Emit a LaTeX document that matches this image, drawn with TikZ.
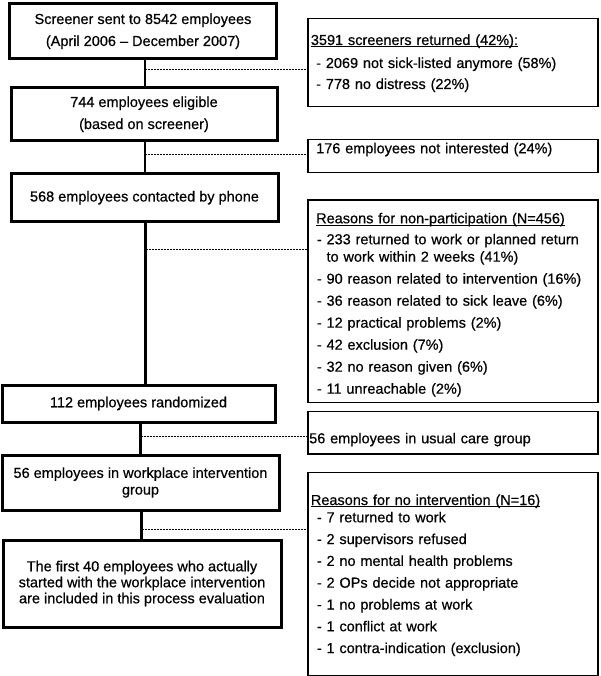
\documentclass[tikz,border=0pt]{standalone}
\usepackage{fontspec}
\setmainfont{Liberation Sans}[UprightFeatures={FakeBold=0.5}]
\newcommand{\headline}[1]{\underline{\smash{#1}}}

\begin{document}
\begin{tikzpicture}[x=1pt,y=-1pt,
  every node/.style={font=\fontsize{14.5}{22}\selectfont},
  mainbox/.style={draw,line width=3pt,inner sep=0pt,align=center},
  sidebox/.style={draw,line width=1.5pt,anchor=north west,inner sep=0pt,minimum width=290pt},
  sidetxt/.style={anchor=base west,inner sep=0pt,text width=285pt,align=left},
  link/.style={line width=2.6pt},
  dots/.style={line width=1pt,dash pattern=on 2pt off 1pt}]

\useasboundingbox (0,0) rectangle (600,676);

% Main boxes
\node[mainbox,minimum width=267pt,minimum height=55.5pt] (m_1) at (143,31.25) {Screener sent to 8542 employees\\(April 2006 -- December 2007)};
\node[mainbox,minimum width=266pt,minimum height=52.5pt] (m_2) at (144,114.25) {744 employees eligible\\(based on screener)};
\node[mainbox,minimum width=267pt,minimum height=47.5pt] (m_3) at (144.5,197.75) {568 employees contacted by phone};
\node[mainbox,minimum width=273pt,minimum height=37pt] (m_4) at (138.5,403.5) {112 employees randomized};
\node[mainbox,minimum width=277pt,minimum height=55pt,font=\fontsize{14.5}{16.7}\selectfont] (m_5) at (140.5,482.5) {56 employees in workplace intervention\\group};
\node[mainbox,minimum width=278pt,minimum height=87pt,font=\fontsize{14.5}{16}\selectfont] (m_6) at (142,583.5) {The first 40 employees who actually\\started with the workplace intervention\\are included in this process evaluation};

% Side boxes
\node[sidebox,minimum height=88pt] (s_1) at (307.3,18) {};
\node[sidebox,minimum height=33pt] (s_2) at (307.3,139) {};
\node[sidebox,minimum height=202.4pt] (s_3) at (307.3,199.3) {};
\node[sidebox,minimum height=42.3pt] (s_4) at (307.3,410.7) {};
\node[sidebox,minimum height=203.3pt] (s_5) at (307.3,471.7) {};

% Side texts
\node[sidetxt] (s_1h) at (310.7,45) {\headline{3591 screeners returned (42\%):}};
\node[sidetxt] (s_1t) at (316,68) {- 2069 not sick-listed anymore (58\%)\\[-1pt]- 778 no distress (22\%)};

\node[sidetxt] (s_2t) at (316,153.3) {176 employees not interested (24\%)};

\node[sidetxt] (s_3h) at (316,223.3) {\headline{Reasons for non-participation (N=456)}};
\node[sidetxt] (s_3t) at (316.7,244.3) {- 233 returned to work or planned return\\[-4.6pt]\hphantom{- }to work within 2 weeks (41\%)\\
  - 90 reason related to intervention (16\%)\\
  - 36 reason related to sick leave (6\%)\\
  - 12 practical problems (2\%)\\
  - 42 exclusion (7\%)\\
  - 32 no reason given (6\%)\\
  - 11 unreachable (2\%)};

\node[sidetxt] (s_4t) at (309,443.3) {56 employees in usual care group};

\node[sidetxt] (s_5h) at (310.7,505) {\headline{Reasons for no intervention (N=16)}};
\node[sidetxt,font=\fontsize{14.5}{21.8}\selectfont] (s_5t) at (316.7,522.3) {- 7 returned to work\\
  - 2 supervisors refused\\
  - 2 no mental health problems\\
  - 2 OPs decide not appropriate\\
  - 1 no problems at work\\
  - 1 conflict at work\\
  - 1 contra-indication (exclusion)};

% Junctions on the main line
\coordinate (j_1) at (145,70);
\coordinate (j_2) at (145,154.3);
\coordinate (j_3) at (145.7,249.3);
\coordinate (j_4) at (140.7,436);
\coordinate (j_5) at (141.7,529.3);

% Solid connectors
\draw[link] (j_1 |- m_1.south) -- (j_1 |- m_2.north);
\draw[link] (j_2 |- m_2.south) -- (j_2 |- m_3.north);
\draw[link] (j_3 |- m_3.south) -- (j_3 |- m_4.north);
\draw[link] (j_4 |- m_4.south) -- (j_4 |- m_5.north);
\draw[link] (j_5 |- m_5.south) -- (j_5 |- m_6.north);

% Dotted connectors
\draw[dots] (j_1) -- (j_1 -| s_1.west);
\draw[dots] (j_2) -- (j_2 -| s_2.west);
\draw[dots] (j_3) -- (j_3 -| s_3.west);
\draw[dots] (j_4) -- (j_4 -| s_4.west);
\draw[dots] (j_5) -- (j_5 -| s_5.west);

\end{tikzpicture}
\end{document}
